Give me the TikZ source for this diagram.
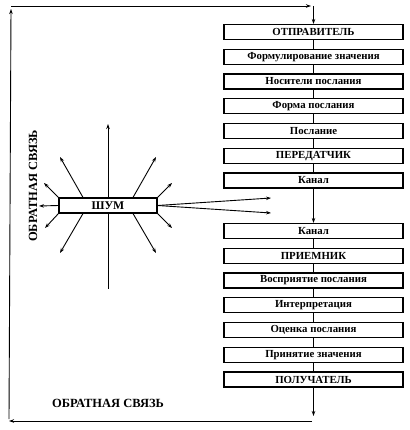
\documentclass[tikz,border=0pt]{standalone}
\usepackage{fontspec}
\setmainfont{Liberation Serif}
\usetikzlibrary{arrows.meta}
\begin{document}
\begin{tikzpicture}[x=1pt,y=-1pt,
  stagebox/.style={draw, line width=1.1pt, minimum width=179pt, minimum height=15pt, inner sep=0pt, font=\bfseries\fontsize{10.8}{12}\selectfont},
  link/.style={line width=0.9pt},
  arr/.style={line width=0.9pt, -{Stealth[length=5pt,width=3.5pt]}},
  lbl/.style={font=\bfseries\fontsize{12.5}{14}\selectfont, inner sep=0pt}
]
\useasboundingbox (0,0) rectangle (409,430);
% upper chain
\node[stagebox] (s1) at (313.5,32) {ОТПРАВИТЕЛЬ};
\node[stagebox] (s2) at (313.5,56.75) {Формулирование значения};
\node[stagebox] (s3) at (313.5,81.5) {Носители послания};
\node[stagebox] (s4) at (313.5,106.25) {Форма послания};
\node[stagebox] (s5) at (313.5,131) {Послание};
\node[stagebox] (s6) at (313.5,155.75) {ПЕРЕДАТЧИК};
\node[stagebox] (s7) at (313.5,180.5) {Канал};
% lower chain
\node[stagebox] (r1) at (313.5,231) {Канал};
\node[stagebox] (r2) at (313.5,255.75) {ПРИЕМНИК};
\node[stagebox] (r3) at (313.5,280.5) {Восприятие послания};
\node[stagebox] (r4) at (313.5,305.25) {Интерпретация};
\node[stagebox] (r5) at (313.5,330) {Оценка послания};
\node[stagebox] (r6) at (313.5,354.75) {Принятие значения};
\node[stagebox] (r7) at (313.5,379.5) {ПОЛУЧАТЕЛЬ};
\foreach \a/\b in {s1/s2,s2/s3,s3/s4,s4/s5,s5/s6,s6/s7,r1/r2,r2/r3,r3/r4,r4/r5,r5/r6,r6/r7}
  \draw[link] (\a.south) -- (\b.north);
\draw[arr] (s7.south) -- (r1.north);
% feedback loop
\coordinate (fb1) at (313.5,416);
\coordinate (fb2) at (312,421);
\coordinate (fb3) at (9,421);
\coordinate (fb4) at (9,419);
\coordinate (fb5) at (11,9);
\coordinate (fb6) at (11,6);
\coordinate (fb7) at (311,6);
\coordinate (fb8) at (313.5,6);
\draw[arr] (r7.south) -- (fb1);
\draw[arr] (fb2) -- (fb3);
\draw[arr] (fb4) -- (fb5);
\draw[arr] (fb6) -- (fb7);
\draw[arr] (fb8) -- (s1.north);
\node[lbl] (fbbottom) at (108,403) {ОБРАТНАЯ СВЯЗЬ};
\node[lbl, rotate=90] (fbside) at (33,186) {ОБРАТНАЯ СВЯЗЬ};
% noise
\node[draw, line width=1.1pt, minimum width=98pt, minimum height=15pt, inner sep=0pt, font=\bfseries\fontsize{11.8}{13}\selectfont] (noise) at (108,205.5) {ШУМ};
\coordinate (nUp) at (108,124);
\coordinate (nDown) at (108,289);
\coordinate (nUL) at (60,157);
\coordinate (nUR) at (156,157);
\coordinate (nULc) at (44,183);
\coordinate (nURc) at (172,183);
\coordinate (nDL) at (60,253);
\coordinate (nDR) at (156,253);
\coordinate (nDLc) at (45,228);
\coordinate (nDRc) at (172,228);
\coordinate (nL) at (39,206);
\coordinate (nR1) at (271,198);
\coordinate (nR2) at (271,213);
\draw[arr] (noise.north) -- (nUp);
\draw[link] (noise.south) -- (nDown);
\draw[arr] ([xshift=-25pt]noise.north) -- (nUL);
\draw[arr] ([xshift=25pt]noise.north) -- (nUR);
\draw[arr] (noise.north west) -- (nULc);
\draw[arr] (noise.north east) -- (nURc);
\draw[arr] ([xshift=-25pt]noise.south) -- (nDL);
\draw[arr] ([xshift=25pt]noise.south) -- (nDR);
\draw[arr] (noise.south west) -- (nDLc);
\draw[arr] (noise.south east) -- (nDRc);
\draw[arr] (noise.west) -- (nL);
\draw[arr] (noise.east) -- (nR1);
\draw[arr] (noise.east) -- (nR2);
\end{tikzpicture}
\end{document}
